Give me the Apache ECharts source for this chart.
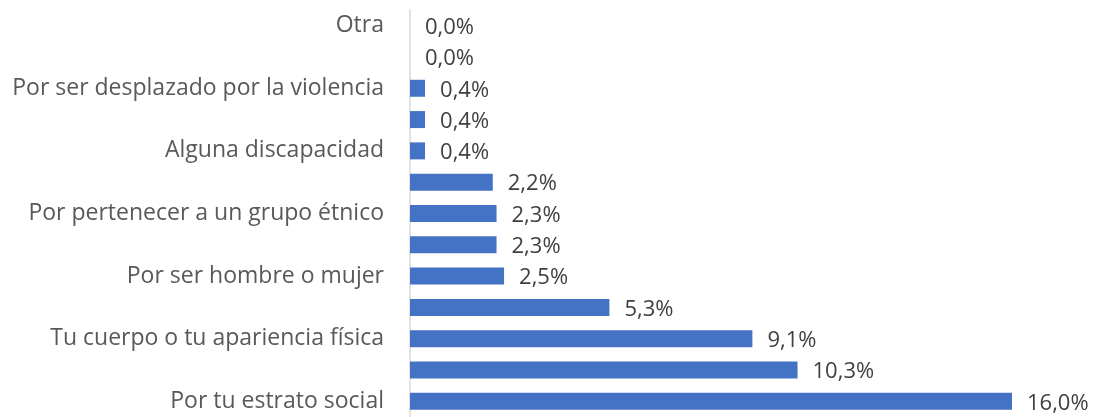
<!DOCTYPE html>
<html>
<head>
<meta charset="utf-8">
<script src="https://cdn.jsdelivr.net/npm/echarts@6/dist/echarts.min.js"></script>
<style>
  html, body { margin: 0; padding: 0; background: #fff; }
  #chart { width: 1099px; height: 417px; }
</style>
</head>
<body>
<div id="chart"></div>
<script>
// categories top to bottom (only every second one carries a visible label)
var categories = [
  'Otra',
  'Por tu religión',
  'Por ser desplazado por la violencia',
  'Por tu orientación sexual',
  'Alguna discapacidad',
  'Por tu lugar de origen',
  'Por pertenecer a un grupo étnico',
  'Por tu edad',
  'Por ser hombre o mujer',
  'Por tu forma de vestir',
  'Tu cuerpo o tu apariencia física',
  'Por tu forma de hablar',
  'Por tu estrato social'
];
var values = [0.0, 0.0, 0.4, 0.4, 0.4, 2.2, 2.3, 2.3, 2.5, 5.3, 9.1, 10.3, 16.0];

var chart = echarts.init(document.getElementById('chart'));
var font = 'Open Sans';

chart.setOption({
  animation: false,
  grid: {
    left: 410,
    right: 87,
    top: 10,
    height: 411
  },
  xAxis: {
    type: 'value',
    min: 0,
    max: 16,
    show: false
  },
  yAxis: {
    type: 'category',
    inverse: true,
    data: categories,
    axisTick: { show: false },
    axisLine: { show: true, lineStyle: { color: '#d9d9d9', width: 1.5 } },
    axisLabel: {
      interval: 1,
      margin: 26,
      fontFamily: font,
      fontSize: 23,
      color: '#595959'
    }
  },
  series: [{
    type: 'bar',
    data: values,
    barWidth: 17,
    itemStyle: { color: '#4472c4' },
    label: {
      show: true,
      position: 'right',
      distance: 15,
      offset: [0, 2],
      fontFamily: font,
      fontSize: 22,
      color: '#404040',
      formatter: function (p) {
        return p.value.toFixed(1).replace('.', ',') + '%';
      }
    }
  }]
});
</script>
</body>
</html>
